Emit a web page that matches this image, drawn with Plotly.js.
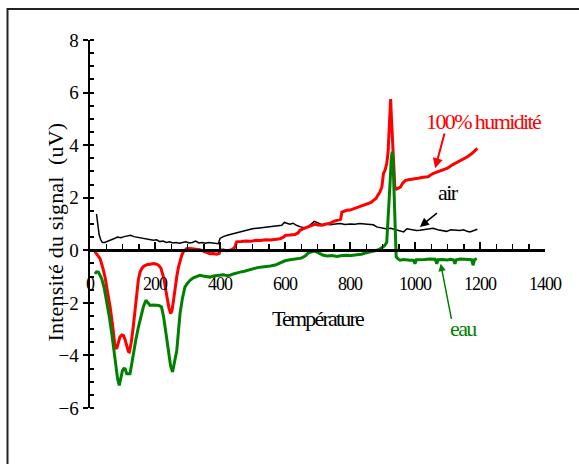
<!DOCTYPE html>
<html>
<head>
<meta charset="utf-8">
<script src="https://cdn.plot.ly/plotly-3.0.1.min.js"></script>
<style>
  html, body { margin: 0; padding: 0; background: #fff; }
  #chart { width: 579px; height: 464px; }
  .xtick text { letter-spacing: -1px; }
  .g-xtitle text { letter-spacing: -1.8px; }
  .annotation-text { letter-spacing: -1.6px; }
  .annotation[data-index="0"] .annotation-text { letter-spacing: 0.2px; }
</style>
</head>
<body>
<div id="chart"></div>
<script>
// ---- data ----
const airT = [20,24,28,33,38,45,55,65,75,85,95,105,115,125,135,145,155,165,175,185,195,205,215,225,235,245,255,265,275,285,295,305,315,325,335,345,355,365,375,385,395,400,410,425,440,455,470,485,500,515,530,545,560,575,590,598,605,615,625,635,646,658,670,680,690,700,712,725,740,755,770,785,800,815,830,845,860,872,882,895,910,925,940,955,965,975,990,1005,1015,1030,1045,1056,1070,1085,1097,1110,1125,1138,1150,1160,1169,1180,1192];
const airY = [1.38,1.0,0.6,0.4,0.3,0.3,0.36,0.4,0.45,0.5,0.48,0.52,0.55,0.57,0.52,0.5,0.47,0.45,0.42,0.4,0.38,0.4,0.33,0.35,0.3,0.32,0.28,0.3,0.27,0.3,0.32,0.28,0.3,0.35,0.28,0.3,0.27,0.3,0.28,0.27,0.25,0.45,0.52,0.58,0.63,0.66,0.72,0.76,0.82,0.84,0.86,0.9,0.92,0.94,0.95,1.06,1.02,0.99,1.03,0.95,0.9,0.86,0.88,1.0,1.1,1.05,0.98,1.0,0.97,1.0,1.02,0.98,1.0,0.99,1.02,1.0,0.99,0.97,0.89,0.85,0.82,0.84,0.78,0.74,0.7,0.82,0.78,0.75,0.76,0.78,0.82,0.84,0.78,0.76,0.72,0.78,0.76,0.75,0.78,0.72,0.7,0.76,0.8];

const humT = [15,22,31,40,46,54,62,70,77,82,87,92,98,103,108,113,118,121,127,133,139,144,149,154,160,166,175,185,195,205,212,218,223,228,233,238,243,248,252,256,261,267,272,277,282,287,292,297,308,318,328,338,349,359,369,379,390,398,400,410,420,431,440,446,451,465,480,495,510,525,540,555,570,585,595,602,615,630,640,646,657,669,680,691,702,714,726,737,750,760,771,775,790,800,815,830,841,855,865,872,880,886,892,898,903,908,913,917,921,925,928,931,934,938,943,948,955,962,970,980,995,1010,1025,1040,1055,1070,1085,1100,1115,1130,1145,1160,1175,1185,1192];
const humY = [-0.05,-0.15,-0.32,-0.7,-1.0,-1.6,-2.16,-2.9,-3.68,-3.75,-3.5,-3.3,-3.22,-3.24,-3.4,-3.68,-3.85,-3.87,-3.5,-2.92,-2.2,-1.65,-1.1,-0.83,-0.68,-0.6,-0.55,-0.53,-0.5,-0.53,-0.58,-0.68,-0.85,-1.1,-1.5,-1.9,-2.2,-2.41,-2.3,-2.0,-1.5,-1.0,-0.65,-0.38,-0.2,-0.06,0.02,0.06,0.07,0.06,0.04,0.02,-0.03,-0.08,-0.13,-0.12,-0.15,-0.12,0.0,0.02,-0.02,0.0,0.05,0.13,0.32,0.33,0.35,0.34,0.38,0.37,0.4,0.39,0.41,0.44,0.5,0.57,0.58,0.6,0.66,0.76,0.82,0.89,0.95,0.99,0.96,0.95,1.0,1.02,1.1,1.14,1.18,1.45,1.52,1.53,1.6,1.67,1.71,1.76,1.82,1.9,1.97,2.1,2.22,2.4,2.92,3.05,3.3,3.7,4.57,5.75,4.9,4.0,3.3,2.41,2.33,2.35,2.4,2.55,2.65,2.68,2.7,2.74,2.78,2.8,2.92,2.98,3.07,3.12,3.25,3.35,3.42,3.55,3.68,3.8,3.88];

const eauT = [15,20,26,31,36,44,51,59,67,74,80,85,90,95,100,104,108,113,118,123,128,133,141,149,156,164,172,178,185,195,205,212,220,226,231,236,241,248,254,260,267,272,277,284,292,300,308,318,328,338,348,358,369,380,390,400,410,420,431,441,452,462,475,490,503,515,530,544,555,570,585,600,615,636,650,662,672,682,690,700,710,718,730,745,760,775,790,805,820,835,850,862,875,888,902,908,913,918,923,927,930,933,936,939,942,948,954,965,975,985,995,1000,1004,1015,1030,1045,1055,1062,1067,1071,1085,1100,1110,1118,1123,1127,1140,1155,1167,1174,1179,1183,1190];
const eauY = [-0.9,-0.82,-0.83,-0.95,-1.08,-1.45,-1.9,-2.5,-3.17,-3.9,-4.57,-4.9,-5.14,-4.85,-4.57,-4.5,-4.51,-4.7,-4.7,-4.7,-4.35,-3.94,-3.4,-2.92,-2.5,-2.16,-1.9,-2.0,-2.1,-2.08,-2.1,-2.1,-2.16,-2.5,-2.92,-3.4,-3.94,-4.4,-4.63,-4.3,-3.81,-3.1,-2.41,-1.85,-1.4,-1.25,-1.14,-1.05,-1.0,-0.95,-0.98,-1.0,-1.02,-0.98,-0.97,-0.95,-0.93,-0.96,-0.95,-0.9,-0.85,-0.83,-0.8,-0.75,-0.7,-0.66,-0.64,-0.63,-0.6,-0.56,-0.47,-0.4,-0.36,-0.32,-0.3,-0.22,-0.1,-0.06,-0.02,-0.08,-0.15,-0.19,-0.22,-0.2,-0.24,-0.2,-0.19,-0.2,-0.17,-0.15,-0.1,-0.06,-0.02,0.02,0.13,0.2,0.3,1.27,2.5,3.5,3.75,3.2,2.2,0.9,-0.25,-0.33,-0.38,-0.35,-0.37,-0.38,-0.38,-0.51,-0.36,-0.36,-0.35,-0.33,-0.32,-0.34,-0.51,-0.36,-0.35,-0.37,-0.34,-0.36,-0.51,-0.36,-0.33,-0.35,-0.34,-0.36,-0.57,-0.36,-0.32];

const xTickVals = [0,200,400,600,800,1000,1200,1400];
const yTickVals = [-6,-4,-2,0,2,4,6,8];
const xTitle = 'Température';
const yTitle = 'Intensité du signal \u00A0(uV)';
const labelHum = '100% humidité';
const labelAir = 'air';
const labelEau = 'eau';

// ---- chart ----
const serif = '"Liberation Serif", serif';
const traces = [
  {x: airT, y: airY, mode: 'lines', line: {color: '#000000', width: 1.5}, name: labelAir},
  {x: humT, y: humY, mode: 'lines', line: {color: '#ff0000', width: 3}, name: labelHum},
  {x: eauT, y: eauY, mode: 'lines', line: {color: '#008000', width: 3}, name: labelEau}
];

const zeroPos = 6 / 14;
const layout = {
  width: 579, height: 464,
  margin: {l: 90, r: 34, t: 40, b: 56, pad: 0},
  paper_bgcolor: '#ffffff', plot_bgcolor: '#ffffff',
  showlegend: false,
  font: {family: serif, color: '#000000'},
  xaxis: {
    range: [0, 1400], anchor: 'free', position: zeroPos,
    showline: true, linewidth: 2.5, linecolor: '#000',
    ticks: 'inside', ticklen: 7, tickwidth: 2, tickcolor: '#000',
    tickmode: 'array', tickvals: xTickVals,
    minor: {ticks: 'inside', dtick: 50, tick0: 0, ticklen: 5, tickwidth: 1.5, tickcolor: '#000'},
    showgrid: false, zeroline: false,
    tickfont: {size: 18, family: serif},
    ticklabelstandoff: 17,
    title: {text: xTitle, font: {size: 22, family: serif}, standoff: 16}
  },
  xaxis2: {
    range: [0, 1400], overlaying: 'x', anchor: 'free', position: zeroPos,
    ticks: 'outside', ticklen: 6, tickwidth: 2, tickcolor: '#000',
    tickmode: 'array', tickvals: xTickVals,
    showticklabels: false, showline: false, showgrid: false, zeroline: false
  },
  yaxis: {
    range: [-6, 8],
    showline: true, linewidth: 2.5, linecolor: '#000',
    ticks: 'outside', ticklen: 5, tickwidth: 2, tickcolor: '#000',
    tickmode: 'array', tickvals: yTickVals,
    minor: {ticks: 'inside', dtick: 0.5, tick0: 0, ticklen: 4, tickwidth: 2, tickcolor: '#000'},
    showgrid: false, zeroline: false,
    tickfont: {size: 19, family: serif}
  },
  yaxis2: {
    range: [-6, 8], overlaying: 'y', side: 'left',
    ticks: 'inside', ticklen: 3, tickwidth: 2, tickcolor: '#000',
    tickmode: 'array', tickvals: yTickVals,
    showticklabels: false, showline: false, showgrid: false, zeroline: false
  },
  shapes: [{
    type: 'rect', xref: 'paper', yref: 'paper', layer: 'above',
    x0: (7.5 - 90) / 455, x1: (600 - 90) / 455,
    y0: (408 - 490) / 368, y1: (408 - 9) / 368,
    line: {color: '#222222', width: 2}
  }],
  annotations: [
    {x: (55 - 90) / 455, y: (408 - 232) / 368, xref: 'paper', yref: 'paper',
     text: yTitle, textangle: -90, showarrow: false, xanchor: 'center', yanchor: 'middle',
     font: {size: 22, color: '#000000', family: serif}},
    {x: 1212, y: 4.91, xref: 'x', yref: 'y', text: labelHum, showarrow: false,
     font: {size: 22, color: '#ff0000', family: serif}},
    {x: 1102, y: 2.19, xref: 'x', yref: 'y', text: labelAir, showarrow: false,
     font: {size: 22, color: '#000000', family: serif}},
    {x: 1148, y: -2.99, xref: 'x', yref: 'y', text: labelEau, showarrow: false,
     font: {size: 22, color: '#008000', family: serif}},
    {x: 1062, y: 3.12, xref: 'x', yref: 'y', ax: 1092, ay: 4.5, axref: 'x', ayref: 'y',
     text: '', showarrow: true, arrowhead: 2, arrowsize: 1, arrowwidth: 2, arrowcolor: '#ff0000'},
    {x: 1015, y: 0.89, xref: 'x', yref: 'y', ax: 1072, ay: 1.46, axref: 'x', ayref: 'y',
     text: '', showarrow: true, arrowhead: 2, arrowsize: 1.2, arrowwidth: 1.5, arrowcolor: '#000000'},
    {x: 1079, y: -0.51, xref: 'x', yref: 'y', ax: 1113, ay: -2.67, axref: 'x', ayref: 'y',
     text: '', showarrow: true, arrowhead: 2, arrowsize: 1, arrowwidth: 1.5, arrowcolor: '#008000'}
  ]
};

Plotly.newPlot('chart', traces, layout, {staticPlot: true, displayModeBar: false});
</script>
</body>
</html>
